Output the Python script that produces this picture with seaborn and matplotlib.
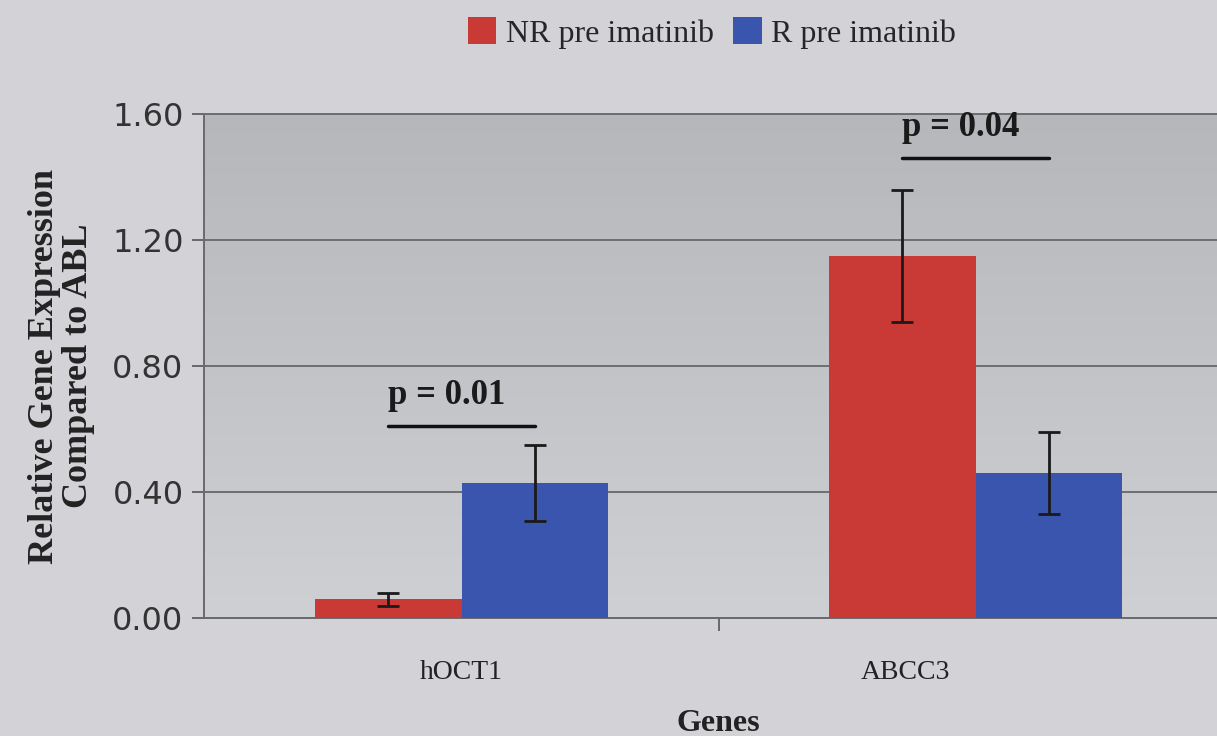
import numpy as np
import pandas as pd
import matplotlib
matplotlib.use("Agg")
import matplotlib.pyplot as plt
import matplotlib.transforms as mtransforms
from matplotlib.colors import LinearSegmentedColormap
from matplotlib.patches import Patch
import seaborn as sns

# ---- data ----
genes = ["hOCT1", "ABCC3"]
groups = ["NR pre imatinib", "R pre imatinib"]
nr_means = [0.06, 1.15]
nr_errs = [0.02, 0.21]
r_means = [0.43, 0.46]
r_errs = [0.12, 0.13]
p_labels = ["p = 0.01", "p = 0.04"]
p_line_y = [0.61, 1.46]
y_ticks = [0.0, 0.4, 0.8, 1.2, 1.6]

df = pd.DataFrame({
    "Gene": genes * 2,
    "Group": [groups[0]] * 2 + [groups[1]] * 2,
    "Value": nr_means + r_means,
    "Err": nr_errs + r_errs,
})

colors = {groups[0]: "#c93a37", groups[1]: "#3a55ad"}
fig_bg = "#d3d3d7"

sns.set_theme(style="white")
plt.rcParams["font.family"] = ["DejaVu Sans"]

fig = plt.figure(figsize=(12.17, 7.36), dpi=100, facecolor=fig_bg)
ax = fig.add_axes([0.168, 0.160, 0.845, 0.685])
ax.set_facecolor("none")

# gradient plot area
cmap = LinearSegmentedColormap.from_list("bg", ["#cfd0d4", "#b6b7bb"])
grad = np.linspace(0, 1, 256).reshape(-1, 1)
ax.imshow(grad, cmap=cmap, aspect="auto", extent=[0, 1, 0, 1],
          origin="lower", transform=ax.transAxes, zorder=0)

sns.barplot(data=df, x="Gene", y="Value", hue="Group", order=genes,
            hue_order=groups, palette=colors, width=0.57, errorbar=None,
            saturation=1, ax=ax, zorder=3, legend=False, linewidth=0,
            edgecolor="none")

# error bars from bar geometry
centers = {}
for container, grp in zip(ax.containers, groups):
    sub = df[df["Group"] == grp].set_index("Gene").loc[genes]
    xs = [b.get_x() + b.get_width() / 2 for b in container]
    centers[grp] = xs
    ax.errorbar(xs, sub["Value"], yerr=sub["Err"], fmt="none",
                ecolor="#1a1a1a", elinewidth=2, capsize=8, capthick=2,
                zorder=4)

# p-value annotations
for i, (lab, ly) in enumerate(zip(p_labels, p_line_y)):
    x0 = centers[groups[0]][i]
    x1 = centers[groups[1]][i]
    ax.plot([x0, x1], [ly, ly], color="#111111", lw=2.5, zorder=5)
    ax.text(x0, ly + 0.045, lab, ha="left", va="bottom",
            fontsize=25, fontweight="bold", family="Liberation Serif",
            color="#1a1a1a", zorder=5)

ax.set_xlim(-0.5, 1.5)
ax.set_ylim(0, 1.6)
ax.set_yticks(y_ticks)
ax.set_yticklabels([f"{v:.2f}" for v in y_ticks], fontsize=23, color="#333333")
ax.yaxis.grid(True, color="#6e6e72", lw=1.4, zorder=1)
ax.set_axisbelow(True)
ax.tick_params(axis="y", length=9, width=1.2, color="#555555", pad=6, left=True)

ax.set_xticks([0, 1])
ax.set_xticklabels(genes, fontsize=20, family="Liberation Serif", color="#222222")
ax.set_xticks([0.5], minor=True)
ax.tick_params(axis="x", which="major", length=0, pad=30)
ax.tick_params(axis="x", which="minor", length=9, width=1.2, color="#555555",
               bottom=True)
# shift ABCC3 label slightly left as in the original
lbls = ax.get_xticklabels()
off = mtransforms.ScaledTranslation(-0.70, 0, fig.dpi_scale_trans)
lbls[1].set_transform(lbls[1].get_transform() + off)

ax.spines["top"].set_visible(True)
ax.spines["top"].set_color("#6e6e72")
ax.spines["right"].set_visible(False)
ax.spines["left"].set_color("#6a6a6e")
ax.spines["bottom"].set_color("#6a6a6e")
for s in ax.spines.values():
    s.set_linewidth(1.4)

ax.set_xlabel("Genes", fontsize=23, fontweight="bold", family="Liberation Serif",
              color="#222222", labelpad=17)
ax.set_ylabel("Relative Gene Expression\nCompared to ABL", fontsize=26,
              fontweight="bold", family="Liberation Serif", color="#222222",
              labelpad=12, linespacing=1.05)

handles = [Patch(facecolor=colors[g], edgecolor="none") for g in groups]
fig.legend(handles, groups, loc="center", bbox_to_anchor=(0.585, 0.955),
           ncol=2, frameon=False, handlelength=0.9, handleheight=0.9,
           handletextpad=0.3, columnspacing=0.6,
           prop={"family": "Liberation Serif", "size": 23})

fig.savefig("out.png", dpi=100, facecolor=fig_bg)
